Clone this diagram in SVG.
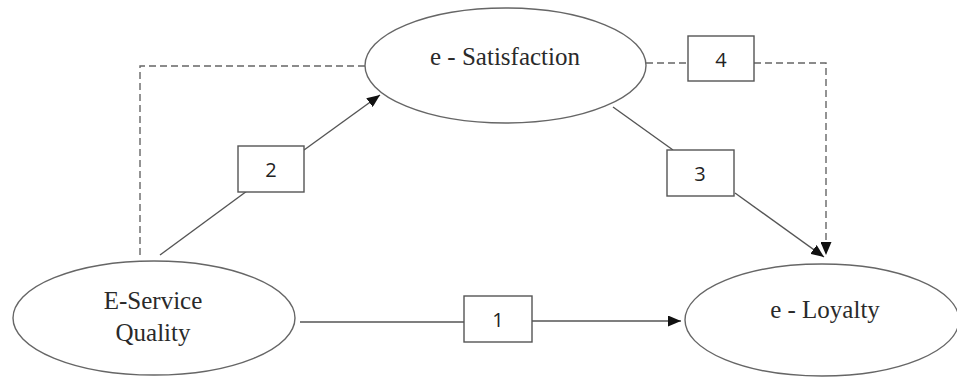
<svg xmlns="http://www.w3.org/2000/svg" width="957" height="379" viewBox="0 0 957 379">
<style>
.node ellipse{fill:#fff;stroke:#666;stroke-width:1.4}
.lbl{font-family:"Liberation Serif","Times New Roman",serif;font-size:25px;fill:#2a2a2a;text-anchor:middle}
.box rect{fill:#fff;stroke:#555;stroke-width:1.4}
.num{font-family:"Open Sans","Liberation Sans",Arial,sans-serif;font-size:20px;fill:#222;text-anchor:middle}
.ln{fill:none;stroke:#555;stroke-width:1.4}
.dash{fill:none;stroke:#666;stroke-width:1.4;stroke-dasharray:7,4}
</style>
<defs>
<marker id="ah" viewBox="0 0 13 11" refX="13" refY="5.5" markerWidth="13" markerHeight="11" markerUnits="userSpaceOnUse" orient="auto">
<path d="M0,0 L13,5.5 L0,11 Z" fill="#111"/>
</marker>
</defs>
<rect width="957" height="379" fill="#fff"/>
<g id="connectors">
<path class="dash" d="M140,255 V66 H365"/>
<path class="dash" d="M646,63 H688"/>
<path class="dash" d="M754,63 H826 V255" marker-end="url(#ah)"/>
<path class="ln" d="M300,322 H464"/>
<path class="ln" d="M532,321 H681" marker-end="url(#ah)"/>
<path class="ln" d="M160,255 L247,191"/>
<path class="ln" d="M304,150 L380,95" marker-end="url(#ah)"/>
<path class="ln" d="M613,107 L673,150"/>
<path class="ln" d="M735,193 L824,257" marker-end="url(#ah)"/>
</g>
<g id="e-satisfaction" class="node">
<ellipse cx="505.5" cy="65.5" rx="140.5" ry="57.5"/>
<text class="lbl" x="505" y="65">e - Satisfaction</text>
</g>
<g id="e-service-quality" class="node">
<ellipse cx="154" cy="318" rx="141" ry="57"/>
<text class="lbl" x="153" y="309">E-Service</text>
<text class="lbl" x="153" y="341">Quality</text>
</g>
<g id="e-loyalty" class="node">
<ellipse cx="822" cy="320" rx="137" ry="56"/>
<text class="lbl" x="825" y="318">e - Loyalty</text>
</g>
<g id="box1" class="box">
<rect x="464" y="296" width="68" height="46"/>
<text class="num" x="498" y="327">1</text>
</g>
<g id="box2" class="box">
<rect x="238" y="146" width="66" height="46"/>
<text class="num" x="271" y="177">2</text>
</g>
<g id="box3" class="box">
<rect x="667" y="150" width="67" height="46"/>
<text class="num" x="700" y="181">3</text>
</g>
<g id="box4" class="box">
<rect x="688" y="36" width="66" height="45"/>
<text class="num" x="721" y="67">4</text>
</g>
</svg>
